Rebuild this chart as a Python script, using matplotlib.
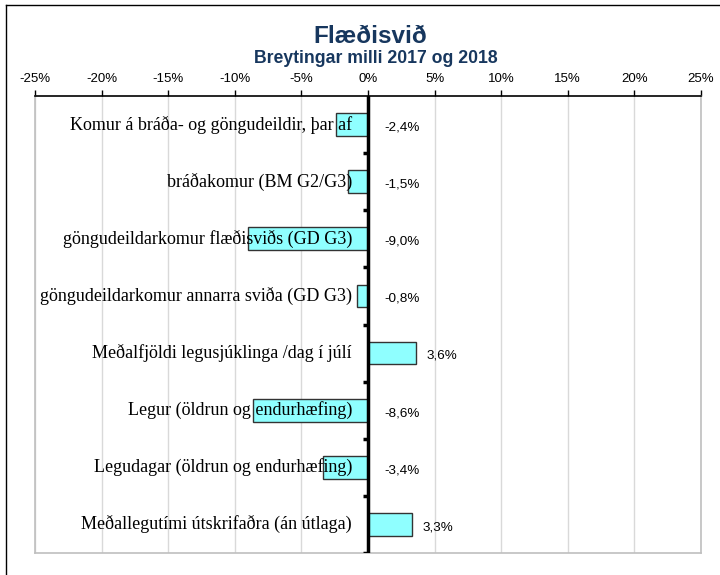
import matplotlib
matplotlib.use("Agg")
from matplotlib import pyplot as plt
from matplotlib.lines import Line2D

# Gögn
categories = [
    "Komur á bráða- og göngudeildir, þar af",
    "bráðakomur (BM G2/G3)",
    "göngudeildarkomur flæðisviðs (GD G3)",
    "göngudeildarkomur annarra sviða (GD G3)",
    "Meðalfjöldi legusjúklinga /dag í júlí",
    "Legur (öldrun og endurhæfing)",
    "Legudagar (öldrun og endurhæfing)",
    "Meðallegutími útskrifaðra (án útlaga)",
]
values = [-2.4, -1.5, -9.0, -0.8, 3.6, -8.6, -3.4, 3.3]
xticks = [-25, -20, -15, -10, -5, 0, 5, 10, 15, 20, 25]

title_color = "#17375E"

fig = plt.figure(figsize=(7.2, 5.75), dpi=100)
ax = fig.add_axes([0.0486, 0.0383, 0.925, 0.7947])

y = list(range(len(categories)))
ax.barh(y, values, height=0.4, color="#8FFFFF", edgecolor="#333333",
        linewidth=1, zorder=2)

ax.set_xlim(-25, 25)
ax.set_ylim(len(categories) - 0.5, -0.5)

# lóðréttar hnitalínur
for t in xticks:
    ax.axvline(t, color="#D9D9D9", linewidth=1, zorder=0)

# flokkaheiti vinstra megin við núll
for yi, lab in zip(y, categories):
    ax.text(-1.2, yi, lab, ha="right", va="center", fontsize=13,
            family="Liberation Serif", zorder=3)

# gildi
for yi, v in zip(y, values):
    x = max(v, 0) + (0.8 if v > 0 else 1.2)
    ax.text(x, yi + 0.05, f"{v:.1f}%".replace(".", ","), ha="left",
            va="center", fontsize=9.7, family="Liberation Sans", zorder=3)

# ás efst
ax.xaxis.tick_top()
ax.set_xticks(xticks)
ax.set_xticklabels([f"{t}%" for t in xticks], family="Liberation Sans",
                   fontsize=9.5)
ax.tick_params(axis="x", direction="out", length=4, width=1, color="black",
               pad=4)
ax.set_yticks([])

for s in ["left", "right", "bottom"]:
    ax.spines[s].set_color("#BFBFBF")
    ax.spines[s].set_linewidth(1.2)
ax.spines["top"].set_color("black")
ax.spines["top"].set_linewidth(1.2)

# núll-lína með merkjum
ax.axvline(0, color="black", linewidth=2.5, zorder=4)
for b in [k + 0.5 for k in range(len(categories))]:
    ax.plot([-0.35, 0], [b, b], color="black", linewidth=2.5, zorder=4,
            solid_capstyle="butt")

fig.text(0.514, 0.937, "Flæðisvið", ha="center", va="center",
         fontsize=17.5, fontweight="bold", color=title_color,
         family="Liberation Sans")
fig.text(0.522, 0.898, "Breytingar milli 2017 og 2018", ha="center",
         va="center", fontsize=12.7, fontweight="bold", color=title_color,
         family="Liberation Sans")

# rammi utan um myndina
fig.add_artist(Line2D([6 / 720, 6 / 720], [0, 1 - 5 / 575],
                      transform=fig.transFigure, color="black", lw=1))
fig.add_artist(Line2D([6 / 720, 1], [1 - 5 / 575, 1 - 5 / 575],
                      transform=fig.transFigure, color="black", lw=1))

fig.savefig("out.png", dpi=100)
